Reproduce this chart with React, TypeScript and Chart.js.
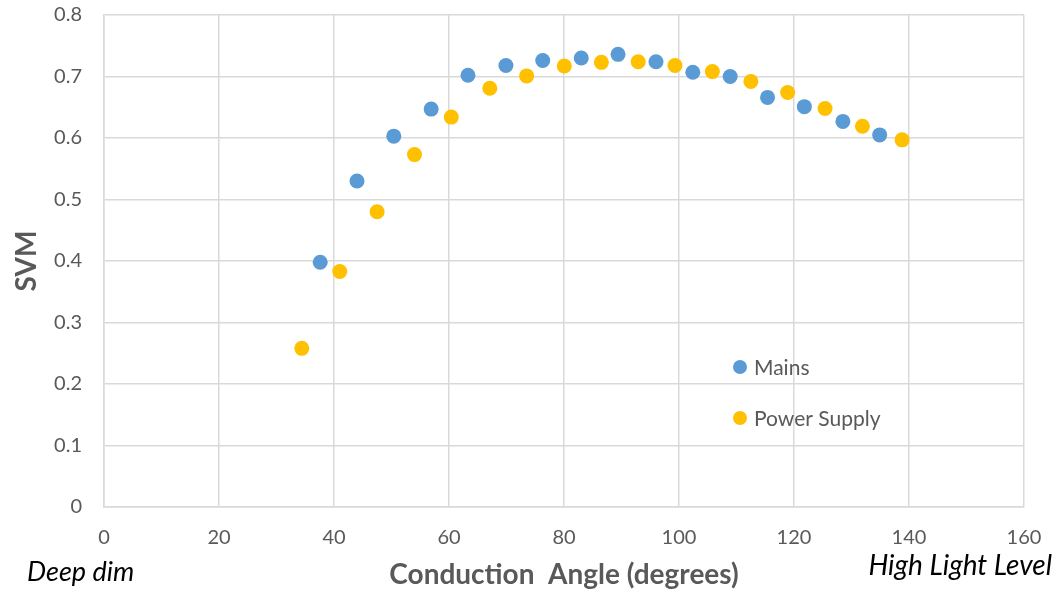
import React, { useEffect, useRef } from "react";
import { Chart, registerables } from "chart.js";

Chart.register(...registerables);

const mainsAngle = [37.6, 44.0, 50.4, 56.9, 63.3, 69.9, 76.3, 83.0, 89.4, 96.0, 102.4, 108.9, 115.4, 121.8, 128.5, 134.9];
const mainsSVM = [0.398, 0.530, 0.603, 0.647, 0.702, 0.718, 0.726, 0.730, 0.736, 0.724, 0.707, 0.700, 0.666, 0.651, 0.627, 0.605];

const supplyAngle = [34.4, 41.0, 47.5, 54.0, 60.4, 67.1, 73.5, 80.05, 86.5, 92.9, 99.3, 105.8, 112.5, 118.9, 125.4, 131.9, 138.8];
const supplySVM = [0.258, 0.383, 0.480, 0.573, 0.634, 0.681, 0.701, 0.717, 0.723, 0.724, 0.718, 0.708, 0.692, 0.674, 0.648, 0.619, 0.597];

const seriesNames = ["Mains", "Power Supply"];
const seriesColors = ["#5B9BD5", "#FFC000"];
const xTitle = "Conduction  Angle (degrees)";
const yTitle = "SVM";
const leftNote = "Deep dim";
const rightNote = "High Light Level";

const FONT = "Lato, 'Noto Sans', sans-serif";
const GRID = "#d9d9d9";
const TEXT = "#595959";

const extrasPlugin = {
  id: "extras",
  afterDraw(chart: any) {
    const ctx = chart.ctx;
    ctx.save();
    // legend inside plot
    const legendX = 740;
    const legendY = [367, 418];
    chart.data.datasets.forEach((ds: any, i: number) => {
      ctx.beginPath();
      ctx.fillStyle = ds.backgroundColor;
      ctx.arc(legendX, legendY[i], 7, 0, Math.PI * 2);
      ctx.fill();
      ctx.fillStyle = TEXT;
      ctx.font = `21px ${FONT}`;
      ctx.textAlign = "left";
      ctx.textBaseline = "middle";
      ctx.fillText(ds.label, legendX + 14, legendY[i] + 1);
    });
    // notes
    ctx.fillStyle = "#000000";
    ctx.textBaseline = "middle";
    ctx.textAlign = "left";
    ctx.font = `italic 27px ${FONT}`;
    ctx.fillText(leftNote, 27, 572);
    ctx.textAlign = "right";
    ctx.font = `italic 28px ${FONT}`;
    ctx.fillText(rightNote, 1052, 566);
    ctx.restore();
  },
};

export default function App() {
  const ref = useRef<HTMLCanvasElement | null>(null);
  useEffect(() => {
    if (!ref.current) return;
    const chart = new Chart(ref.current, {
      type: "scatter",
      data: {
        datasets: [
          {
            label: seriesNames[0],
            data: mainsAngle.map((x, i) => ({ x, y: mainsSVM[i] })),
            backgroundColor: seriesColors[0],
            borderColor: seriesColors[0],
            pointRadius: 7.5,
            pointBorderWidth: 0,
          },
          {
            label: seriesNames[1],
            data: supplyAngle.map((x, i) => ({ x, y: supplySVM[i] })),
            backgroundColor: seriesColors[1],
            borderColor: seriesColors[1],
            pointRadius: 7.5,
            pointBorderWidth: 0,
          },
        ],
      },
      options: {
        responsive: false,
        animation: false,
        layout: { padding: { left: 0, right: 36, top: 15, bottom: 0 } },
        plugins: {
          legend: { display: false },
          tooltip: { enabled: false },
        },
        scales: {
          x: {
            type: "linear",
            min: 0,
            max: 160,
            ticks: { stepSize: 20, color: TEXT, font: { family: FONT, size: 20 }, padding: 0 },
            grid: { color: GRID, lineWidth: 1.5, drawTicks: true, tickLength: 19, tickColor: "rgba(0,0,0,0)" },
            border: { color: GRID, width: 1.5 },
            title: {
              display: true,
              text: xTitle,
              color: TEXT,
              font: { family: FONT, size: 28, weight: "bold" },
              padding: { top: 0, bottom: 0 },
            },
            afterFit: (s: any) => {
              s.height = 85;
            },
          },
          y: {
            min: 0,
            max: 0.8,
            ticks: {
              stepSize: 0.1,
              color: TEXT,
              font: { family: FONT, size: 20 },
              padding: 0,
              callback: (v: any) => (Math.round(Number(v) * 10) / 10).toString(),
            },
            grid: { color: GRID, lineWidth: 1.5, drawTicks: true, tickLength: 22, tickColor: "rgba(0,0,0,0)" },
            border: { color: GRID, width: 1.5 },
            title: {
              display: true,
              text: yTitle,
              color: TEXT,
              font: { family: FONT, size: 28, weight: "bold" },
              padding: { top: 10, bottom: 0 },
            },
            afterFit: (s: any) => {
              s.width = 104;
            },
          },
        },
      },
      plugins: [extrasPlugin],
    } as any);
    return () => chart.destroy();
  }, []);
  return (
    <div style={{ position: "fixed", left: 0, top: 0, width: 1060, height: 592, background: "#fff" }}>
      <canvas ref={ref} width={1060} height={592} style={{ display: "block" }} />
    </div>
  );
}
